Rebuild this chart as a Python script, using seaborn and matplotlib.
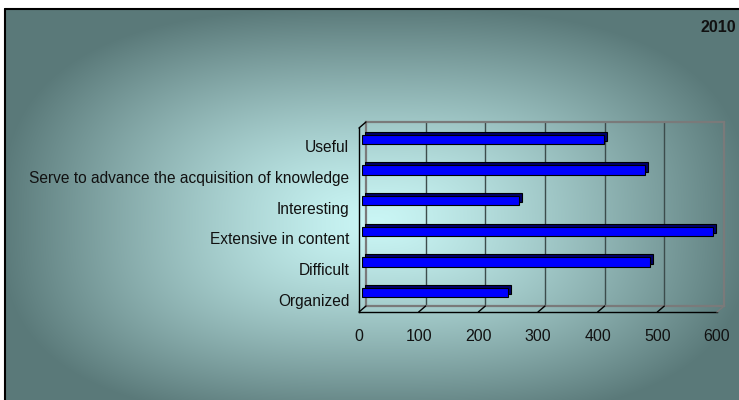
import numpy as np
import pandas as pd
import matplotlib
matplotlib.use("Agg")
import matplotlib.pyplot as plt
from matplotlib.lines import Line2D
import seaborn as sns

# ---- data ----
categories = ["Useful",
              "Serve to advance the acquisition of knowledge",
              "Interesting",
              "Extensive in content",
              "Difficult",
              "Organized"]
values = [406, 475, 263, 589, 482, 245]
x_ticks = [0, 100, 200, 300, 400, 500, 600]
title_text = "2010"

df = pd.DataFrame({"category": categories, "value": values})

sns.set_theme(style="white")
plt.rcParams["font.family"] = ["Liberation Sans", "DejaVu Sans"]

W, H = 739, 400
fig = plt.figure(figsize=(W / 100, H / 100), dpi=100)
fig.patch.set_facecolor("white")


def px(x0, y0, x1, y1):
    return [x0 / W, (H - y1) / H, (x1 - x0) / W, (y1 - y0) / H]


# ---- background gradient ----
bg = fig.add_axes([0, 0, 1, 1])
bg.set_xlim(0, W)
bg.set_ylim(H, 0)
bg.axis("off")
yy, xx = np.mgrid[0:H, 0:W].astype(float)
cx, cy = 375.0, 222.0
dx = np.abs(xx - cx) / 375.0
dy = np.where(yy < cy, (cy - yy) / 215.0, (yy - cy) / 200.0)
p = 2.8
d = (dx ** p + dy ** p) ** (1.0 / p)
t = np.clip(d, 0, 1) ** 1.3
light = np.array([0xca, 0xf6, 0xf5]) / 255.0
dark = np.array([0x5a, 0x79, 0x79]) / 255.0
img = light[None, None, :] * (1 - t[..., None]) + dark[None, None, :] * t[..., None]
bg.imshow(img[9:, 5:], extent=(5, W, H, 9), aspect="auto", interpolation="bilinear")
bg.plot([5, 5], [9, H], color="black", lw=1.5)
bg.plot([5, W], [9, 9], color="black", lw=1.5)

ylims = (len(categories) - 0.5, -0.5)

# ---- back wall with gridlines ----
back = fig.add_axes(px(366, 122, 724, 306))
back.set_facecolor("none")
back.set_xlim(0, 600)
back.set_ylim(*ylims)
for xv in x_ticks[1:-1]:
    back.axvline(xv, color="#3c4c4c", lw=1.0)
for s in back.spines.values():
    s.set_color("#7a7a7a")
    s.set_linewidth(1.6)
back.set_xticks([])
back.set_yticks([])

# ---- bar depth (top/side faces) ----
depth = fig.add_axes(px(365, 121, 723, 305))
depth.set_facecolor("none")
sns.barplot(data=df, x="value", y="category", orient="h", ax=depth,
            color="#00006a", saturation=1, width=0.3,
            edgecolor="black", linewidth=0.8)
depth.set_xlim(0, 600)
depth.set_ylim(*ylims)
depth.axis("off")

# ---- bar front faces ----
bars = fig.add_axes(px(362, 124, 720, 308))
bars.set_facecolor("none")
sns.barplot(data=df, x="value", y="category", orient="h", ax=bars,
            color="#0000ff", saturation=1, width=0.3,
            edgecolor="black", linewidth=0.8)
bars.set_xlim(0, 600)
bars.set_ylim(*ylims)
bars.axis("off")

# ---- front axes (labels, ticks) ----
ax = fig.add_axes(px(359, 128, 717, 312))
ax.set_facecolor("none")
ax.set_xlim(0, 600)
ax.set_ylim(*ylims)
for side in ["top", "right"]:
    ax.spines[side].set_visible(False)
for side in ["left", "bottom"]:
    ax.spines[side].set_color("black")
    ax.spines[side].set_linewidth(1.0)
ax.set_xticks(x_ticks)
ax.set_xticklabels([str(v) for v in x_ticks], fontsize=11.5, color="#111111")
ax.tick_params(axis="x", direction="out", length=4, width=1, pad=8, color="black")
ax.set_yticks(np.arange(-0.5, len(categories), 1.0))
ax.set_yticklabels([""] * (len(categories) + 1))
ax.set_yticks(np.arange(len(categories)) + 0.1, minor=True)
ax.set_yticklabels(categories, minor=True, fontsize=11.2, color="#111111")
ax.tick_params(axis="y", which="major", direction="out", length=5, width=1, color="black")
ax.tick_params(axis="y", which="minor", length=0, pad=7)
ax.set_xlabel("")
ax.set_ylabel("")

# ---- floor and wall diagonals (axis decoration) ----
fig.canvas.draw()
to_fig = fig.transFigure.inverted()
for xv in x_ticks:
    p0 = ax.transData.transform((xv, ylims[0]))
    p1 = back.transData.transform((xv, ylims[0]))
    a = to_fig.transform(p0)
    b = to_fig.transform(p1)
    col = "#7a7a7a" if xv == x_ticks[-1] else "black"
    fig.add_artist(Line2D([a[0], b[0]], [a[1], b[1]], color=col, lw=1.0))
p0 = to_fig.transform(ax.transData.transform((0, ylims[1])))
p1 = to_fig.transform(back.transData.transform((0, ylims[1])))
fig.add_artist(Line2D([p0[0], p1[0]], [p0[1], p1[1]], color="black", lw=1.0))

fig.text(736 / W, 1 - 27 / H, title_text, ha="right", va="center",
         fontsize=11.5, fontweight="bold", color="#111111")

fig.savefig("out.png", dpi=100)
